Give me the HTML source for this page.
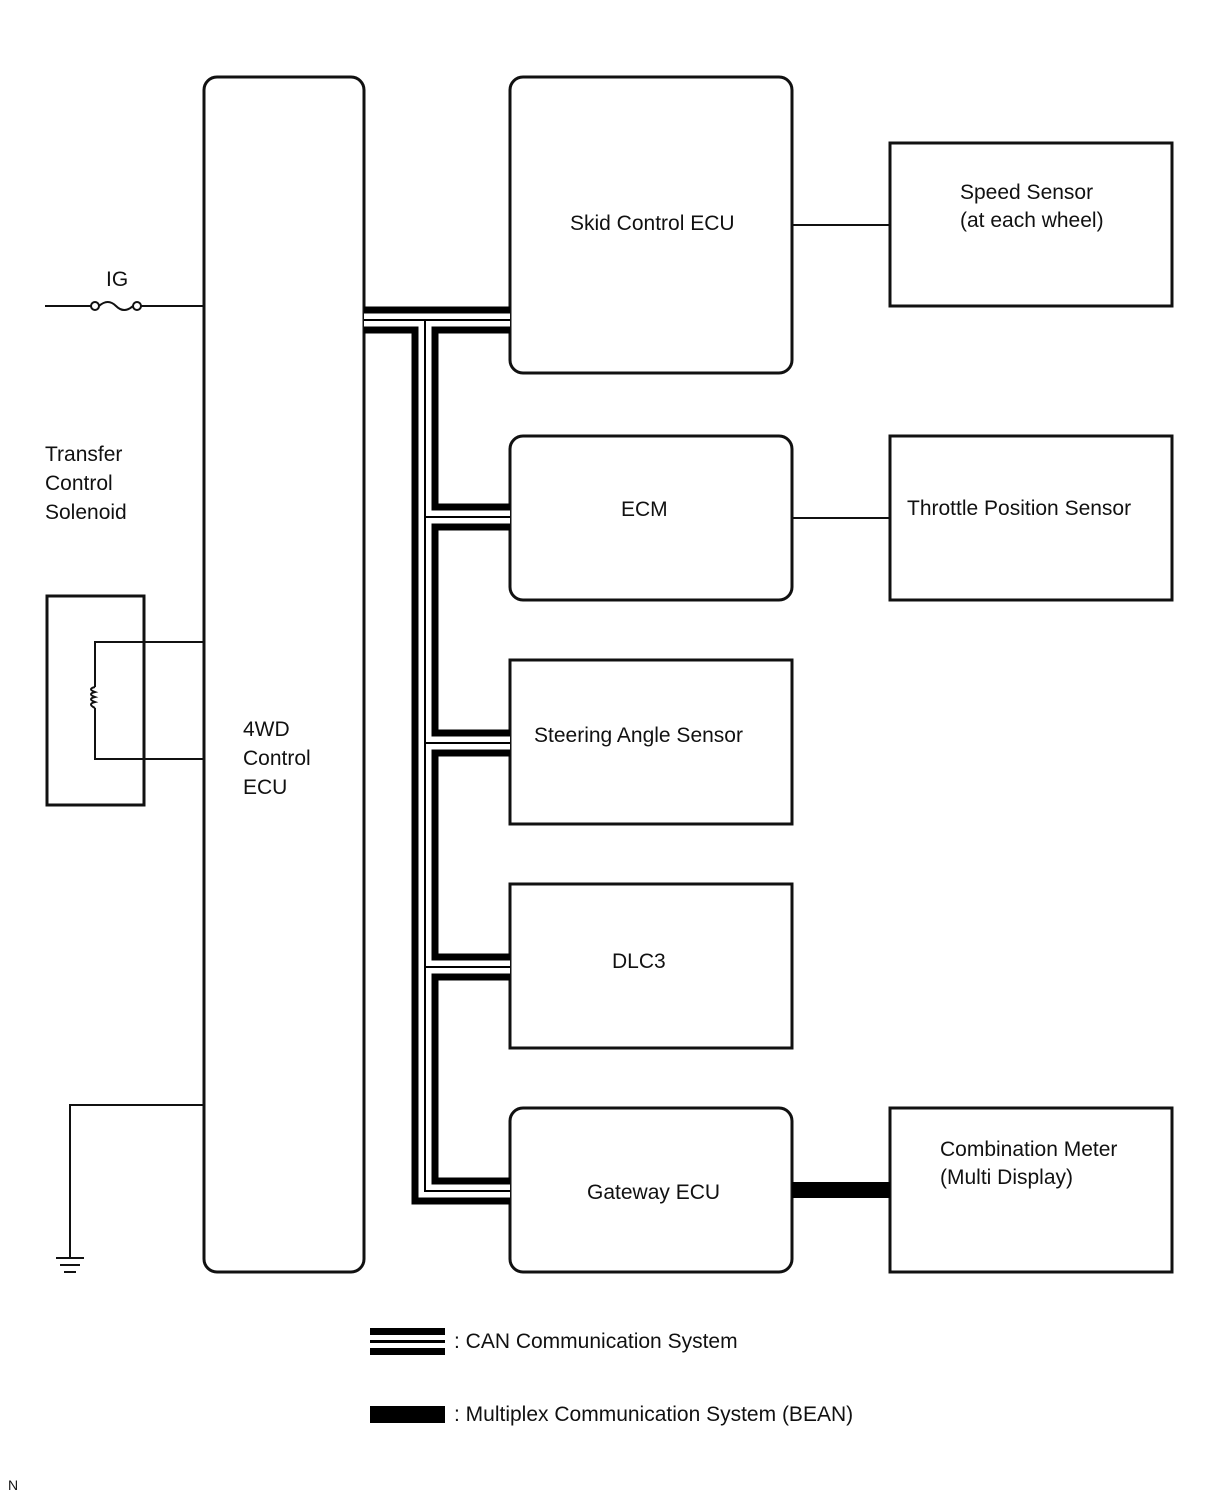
<!DOCTYPE html>
<html><head><meta charset="utf-8"><style>
html,body{margin:0;padding:0;background:#fff;}
svg text{font-family:"Liberation Sans",sans-serif;font-size:21px;fill:#111;}
</style></head><body>
<svg width="1210" height="1498" viewBox="0 0 1210 1498" xmlns="http://www.w3.org/2000/svg">
<g fill="none" stroke="#111" stroke-width="3">
<rect x="204" y="77" width="160" height="1195" rx="13"/>
<rect x="510" y="77" width="282" height="296" rx="13"/>
<rect x="510" y="436" width="282" height="164" rx="13"/>
<rect x="510" y="660" width="282" height="164"/>
<rect x="510" y="884" width="282" height="164"/>
<rect x="510" y="1108" width="282" height="164" rx="13"/>
<rect x="890" y="143" width="282" height="163"/>
<rect x="890" y="436" width="282" height="164"/>
<rect x="890" y="1108" width="282" height="164"/>
<rect x="47" y="596" width="97" height="209"/>
</g>
<g fill="none" stroke="#111" stroke-width="2">
<line x1="792" y1="225" x2="890" y2="225"/>
<line x1="792" y1="518" x2="890" y2="518"/>
<line x1="45" y1="306" x2="91" y2="306"/>
<line x1="141" y1="306" x2="204" y2="306"/>
<circle cx="95" cy="306" r="4"/>
<circle cx="137" cy="306" r="4"/>
<path d="M99,306 Q108,298 116,306 Q124,314 133,306"/>
<polyline points="204,642 95,642 95,687"/>
<polyline points="95,708 95,759 204,759"/>
<path d="M95,687 q-8,2 0,5 q-8,2 0,5 q-8,2 0,5 q-8,2 0,6"/>
<polyline points="204,1105 70,1105 70,1258"/>
<line x1="56" y1="1258" x2="84" y2="1258"/>
<line x1="60" y1="1265" x2="80" y2="1265"/>
<line x1="64" y1="1272" x2="76" y2="1272"/>
</g>
<rect x="792" y="1182" width="98" height="16" fill="#000"/>
<g fill="none">
<path id="bus" d="M364,320 H510 M425,320 V1191 H510 M425,517 H510 M425,743 H510 M425,967 H510" stroke="#000" stroke-width="27"/>
<path d="M364,320 H510 M425,320 V1191 H510 M425,517 H510 M425,743 H510 M425,967 H510" stroke="#fff" stroke-width="13"/>
<path d="M364,320 H510 M425,320 V1191 H510 M425,517 H510 M425,743 H510 M425,967 H510" stroke="#000" stroke-width="2"/>
</g>
<rect x="370" y="1328" width="75" height="27" fill="#000"/>
<rect x="370" y="1335" width="75" height="13" fill="#fff"/>
<rect x="370" y="1340" width="75" height="3" fill="#000"/>
<rect x="370" y="1406" width="75" height="17" fill="#000"/>
<text x="106" y="286">IG</text>
<text x="45" y="461">Transfer</text>
<text x="45" y="490">Control</text>
<text x="45" y="519">Solenoid</text>
<text x="243" y="736">4WD</text>
<text x="243" y="765">Control</text>
<text x="243" y="794">ECU</text>
<text x="570" y="230">Skid Control ECU</text>
<text x="621" y="516">ECM</text>
<text x="534" y="742">Steering Angle Sensor</text>
<text x="612" y="968">DLC3</text>
<text x="587" y="1199">Gateway ECU</text>
<text x="960" y="199">Speed Sensor</text>
<text x="960" y="227">(at each wheel)</text>
<text x="907" y="515">Throttle Position Sensor</text>
<text x="940" y="1156">Combination Meter</text>
<text x="940" y="1184">(Multi Display)</text>
<text x="454" y="1348">: CAN Communication System</text>
<text x="454" y="1421">: Multiplex Communication System (BEAN)</text>
<text x="8" y="1490" style="font-size:14px">N</text>
</svg>
</body></html>
